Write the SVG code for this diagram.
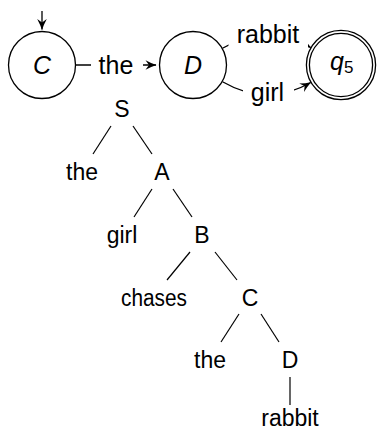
<svg xmlns="http://www.w3.org/2000/svg" width="379" height="432" viewBox="0 0 379 432">
<style>
.st{fill:none;stroke:#000;stroke-width:1.3}
.ln{fill:none;stroke:#000;stroke-width:1.2}
.t{font-family:"Liberation Sans",Arial,sans-serif;font-size:23px;fill:#000;text-anchor:middle}
.e{font-family:"Liberation Sans",Arial,sans-serif;font-size:25px;fill:#000;text-anchor:middle}
.m{font-family:"Liberation Sans",Arial,sans-serif;font-size:25px;font-style:italic;fill:#000}
.bg{fill:#fff;stroke:none}
</style>
<defs>
<marker id="arr" viewBox="-12 -6 13 12" refX="0" refY="0" markerWidth="13" markerHeight="12" markerUnits="userSpaceOnUse" orient="auto">
<path d="M0.5,0 Q-5,-1.8 -10.5,-4.8 L-7,0 L-10.5,4.8 Q-5,1.8 0.5,0 Z" fill="#000"/>
</marker>
</defs>
<rect width="379" height="432" fill="#fff"/>
<g id="connectors">
<line class="st" x1="42" y1="11" x2="42" y2="29.5" marker-end="url(#arr)"/>
<line class="st" x1="75.5" y1="65" x2="156" y2="65" marker-end="url(#arr)"/>
<path class="st" d="M222.5,48.25 C252.4,31 280.8,30.25 310.7,47.5" marker-end="url(#arr)"/>
<path class="st" d="M222.5,81.75 C252.4,99 280.8,99.75 310.7,82.5" marker-end="url(#arr)"/>
<rect class="bg" x="91" y="52" width="52" height="27"/>
<text class="e" x="116" y="74">the</text>
<rect class="bg" x="228.5" y="22" width="79.5" height="26.5"/>
<text class="e" x="268" y="43">rabbit</text>
<rect class="bg" x="243" y="83" width="51" height="25"/>
<text class="e" x="267.5" y="101">girl</text>
<line class="ln" x1="111" y1="126" x2="93" y2="154"/>
<line class="ln" x1="133" y1="126" x2="152" y2="154"/>
<line class="ln" x1="152" y1="189" x2="134" y2="217"/>
<line class="ln" x1="173" y1="189" x2="192" y2="217"/>
<line class="ln" x1="190" y1="252" x2="167" y2="280"/>
<line class="ln" x1="215" y1="252" x2="237" y2="280"/>
<line class="ln" x1="239" y1="314" x2="221" y2="342"/>
<line class="ln" x1="261" y1="314" x2="279" y2="342"/>
<line class="ln" x1="290" y1="377" x2="290" y2="405"/>
</g>
<g id="state-C">
<circle class="st" cx="42" cy="65" r="33.5"/>
<text class="m" x="42" y="74" text-anchor="middle">C</text>
</g>
<g id="state-D">
<circle class="st" cx="193" cy="65" r="33.5"/>
<text class="m" x="193" y="74" text-anchor="middle">D</text>
</g>
<g id="state-q5">
<circle class="st" cx="341" cy="65" r="34.6"/>
<circle class="st" cx="341" cy="65" r="31.6"/>
<text x="330" y="70"><tspan class="m">q</tspan><tspan font-family="Liberation Sans,Arial,sans-serif" font-size="17" y="73">5</tspan></text>
</g>
<g id="tree-S"><text class="t" x="122" y="117">S</text></g>
<g id="tree-the1"><text class="t" x="82" y="180">the</text></g>
<g id="tree-A"><text class="t" x="162" y="180">A</text></g>
<g id="tree-girl"><text class="t" x="122" y="243">girl</text></g>
<g id="tree-B"><text class="t" x="202" y="243">B</text></g>
<g id="tree-chases"><text class="t" x="154" y="306" textLength="66" lengthAdjust="spacingAndGlyphs">chases</text></g>
<g id="tree-C"><text class="t" x="250" y="306">C</text></g>
<g id="tree-the2"><text class="t" x="210" y="368">the</text></g>
<g id="tree-D"><text class="t" x="290" y="368">D</text></g>
<g id="tree-rabbit"><text class="t" x="290" y="426">rabbit</text></g>
</svg>
